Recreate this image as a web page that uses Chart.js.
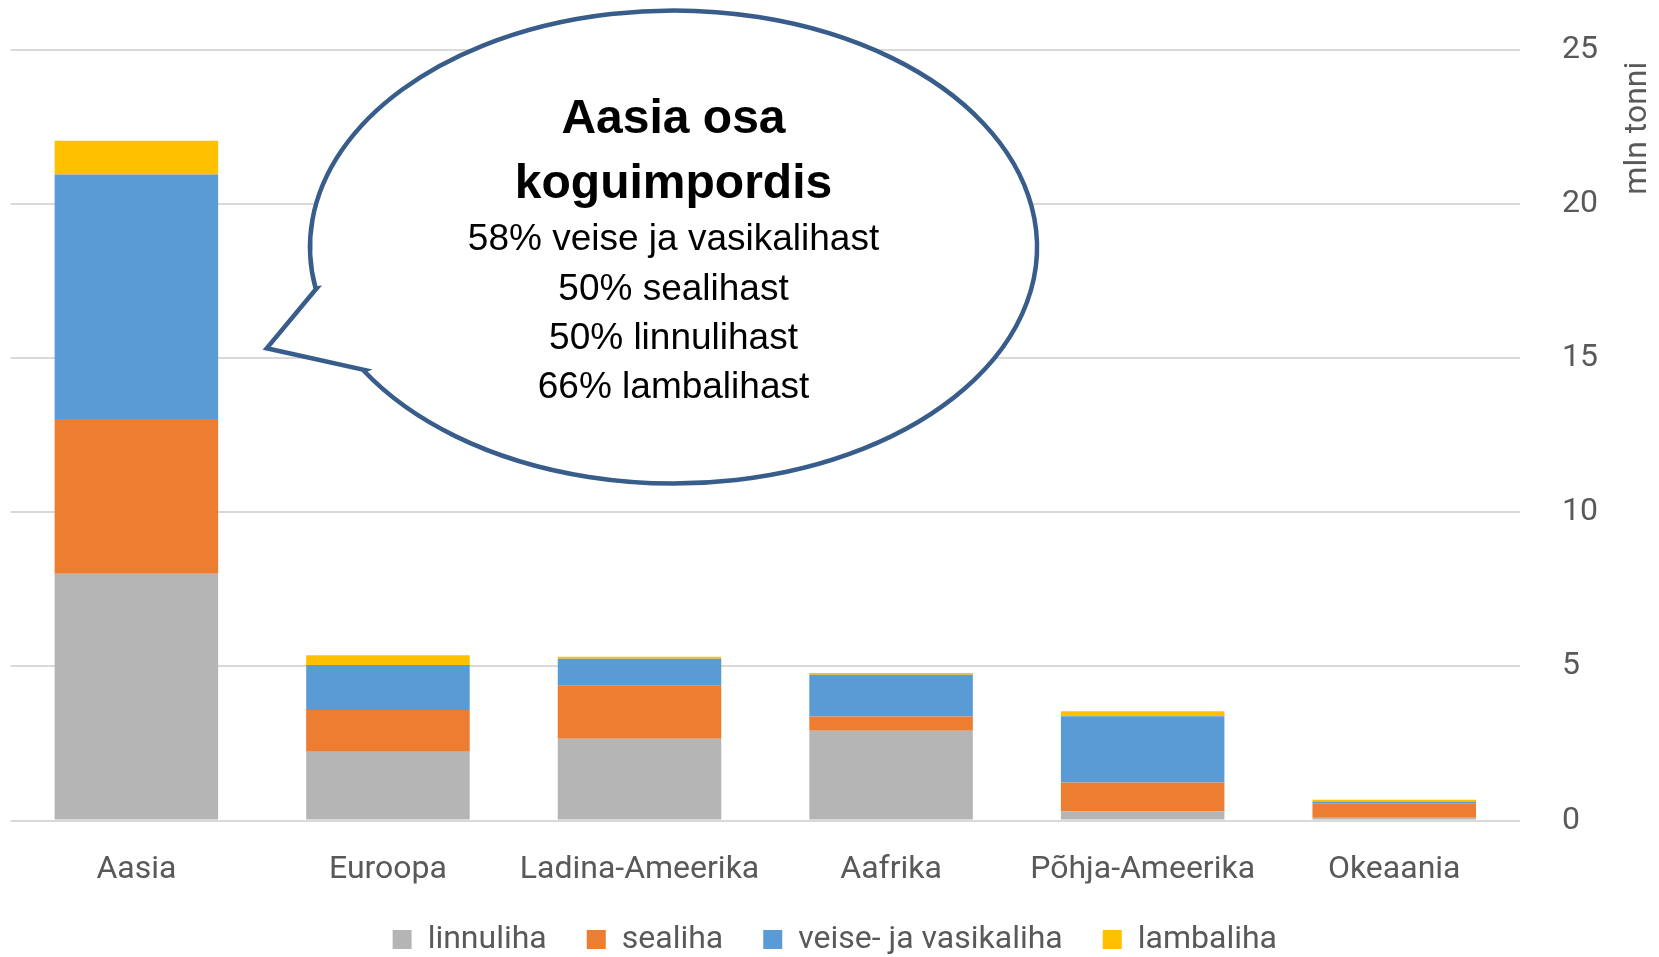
<!DOCTYPE html>
<html>
<head>
<meta charset="utf-8">
<script src="https://cdn.jsdelivr.net/npm/chart.js@4"></script>
<style>
  html, body { margin:0; padding:0; background:#fff; }
  #wrap { width:1659px; height:957px; position:relative; }
</style>
</head>
<body>
<div id="wrap"><canvas id="chart"></canvas></div>
<script>
const regions = ['Aasia', 'Euroopa', 'Ladina-Ameerika', 'Aafrika', 'Põhja-Ameerika', 'Okeaania'];
const linnuliha = [8.0, 2.23, 2.65, 2.91, 0.30, 0.09];
const sealiha   = [5.02, 1.35, 1.72, 0.46, 0.93, 0.47];
const veis      = [7.93, 1.46, 0.88, 1.36, 2.15, 0.06];
const lambaliha = [1.1, 0.32, 0.06, 0.05, 0.16, 0.05];
const seriesNames = ['linnuliha', 'sealiha', 'veise- ja vasikaliha', 'lambaliha'];
const yTicks = [0, 5, 10, 15, 20, 25];
const bubbleTitle = ['Aasia osa', 'koguimpordis'];
const bubbleLines = ['58% veise ja vasikalihast', '50% sealihast', '50% linnulihast', '66% lambalihast'];

const COLORS = ['#b5b5b5', '#ed7d31', '#5b9bd5', '#ffc000'];
const TXT = '#595959';

// speech bubble drawn over the plot
const bubble = {
  id: 'bubble',
  afterDatasetsDraw(chart){
    const ctx = chart.ctx;
    const cx = 673.5, cy = 247, rx = 363.5, ry = 236.5;
    const p1 = [316.7, 288.3], tip = [266.7, 348.3], p2 = [365, 370];
    const ang = p => Math.atan2((p[1]-cy)/ry, (p[0]-cx)/rx);
    ctx.save();
    ctx.beginPath();
    ctx.moveTo(p1[0], p1[1]);
    ctx.lineTo(tip[0], tip[1]);
    ctx.lineTo(p2[0], p2[1]);
    ctx.ellipse(cx, cy, rx, ry, 0, ang(p2), ang(p1), true);
    ctx.closePath();
    ctx.fillStyle = '#fff';
    ctx.fill();
    ctx.lineWidth = 4.5;
    ctx.lineJoin = 'miter';
    ctx.strokeStyle = '#385d8a';
    ctx.stroke();

    ctx.fillStyle = '#000';
    ctx.textAlign = 'center';
    ctx.textBaseline = 'middle';
    ctx.font = 'bold 48px "Liberation Sans", Arial, sans-serif';
    bubbleTitle.forEach((t, i) => ctx.fillText(t, cx, 120 + i*65));
    ctx.font = '37px "Liberation Sans", Arial, sans-serif';
    bubbleLines.forEach((t, i) => ctx.fillText(t, cx, 240 + i*49.3));
    ctx.restore();
  }
};

// y-axis title reading bottom to top, near the top of the axis
const yTitle = {
  id: 'yTitle',
  afterDraw(chart){
    const ctx = chart.ctx;
    const y = chart.scales.y;
    ctx.save();
    ctx.translate(1638, y.getPixelForValue(25) + 12);
    ctx.rotate(-Math.PI/2);
    ctx.font = '32px Roboto, sans-serif';
    ctx.fillStyle = TXT;
    ctx.textAlign = 'right';
    ctx.textBaseline = 'middle';
    ctx.fillText('mln tonni', 0, 0);
    ctx.restore();
  }
};

const data = [linnuliha, sealiha, veis, lambaliha];

new Chart(document.getElementById('chart'), {
  type: 'bar',
  data: {
    labels: regions,
    datasets: seriesNames.map((n, i) => ({
      label: n, data: data[i], backgroundColor: COLORS[i], borderWidth: 0,
      categoryPercentage: 1, barPercentage: 0.65
    }))
  },
  options: {
    responsive: true,
    maintainAspectRatio: false,
    animation: false,
    layout: { padding: { left: 10.6, right: 0, top: 49.7, bottom: -8.5 } },
    plugins: {
      tooltip: { enabled: false },
      legend: {
        position: 'bottom',
        labels: {
          font: { family: 'Roboto', size: 32, lineHeight: 1 },
          color: TXT,
          boxWidth: 19, boxHeight: 19,
          padding: 40
        }
      }
    },
    scales: {
      x: {
        stacked: true,
        grid: { display: false },
        border: { display: false },
        afterFit(s){ s.height = 63; s.paddingLeft = 0; s.paddingRight = 0; },
        ticks: { font: { family: 'Roboto', size: 32 }, color: TXT, padding: 22, maxRotation: 0 }
      },
      y: {
        stacked: true,
        position: 'right',
        min: 0, max: 25,
        afterBuildTicks(s){ s.ticks = yTicks.map(v => ({ value: v })); },
        afterFit(s){ s.width = 139; s.paddingTop = 0; s.paddingBottom = 0; },
        grid: { color: '#d9d9d9', lineWidth: 2, drawTicks: false },
        border: { display: false },
        ticks: { font: { family: 'Roboto', size: 32 }, color: TXT, padding: 42 }
      }
    }
  },
  plugins: [bubble, yTitle]
});
</script>
</body>
</html>
